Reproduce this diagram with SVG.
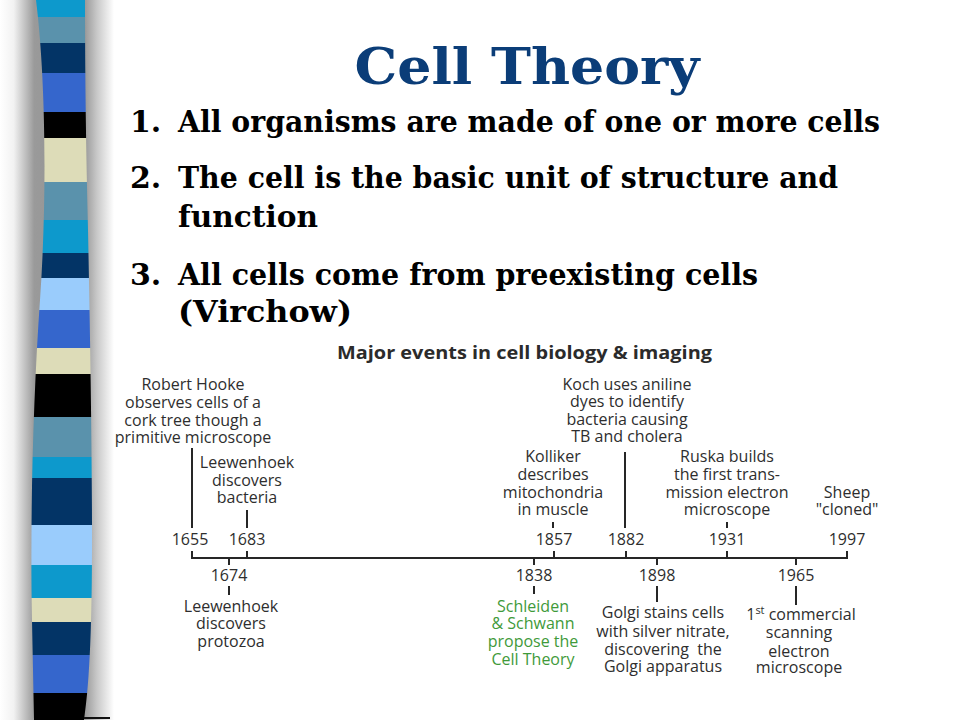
<svg xmlns="http://www.w3.org/2000/svg" width="960" height="720" viewBox="0 0 960 720">
<defs>
<style>
.title{font-family:"DejaVu Serif","Liberation Serif",serif;font-weight:bold;font-size:50px;fill:#0b3d78}
.li{font-family:"DejaVu Serif","Liberation Serif",serif;font-weight:bold;font-size:30px;fill:#000}
.hd{font-family:"Open Sans","Noto Sans",sans-serif;font-weight:bold;font-size:17px;fill:#2b2b2b}
.t{font-family:"Open Sans","Noto Sans",sans-serif;font-size:16px;fill:#2e2e2e;text-anchor:middle}
.g{fill:#3f9a3a}
.ln{stroke:#262626;stroke-width:2;fill:none}
</style>
<linearGradient id="shadow" x1="0" y1="0" x2="1" y2="0">
<stop offset="0" stop-color="#ffffff"/>
<stop offset="0.12" stop-color="#f2f2f2"/>
<stop offset="0.3" stop-color="#9a9a9a"/>
<stop offset="0.72" stop-color="#8e8e8e"/>
<stop offset="0.85" stop-color="#c8c8c8"/>
<stop offset="1" stop-color="#ffffff"/>
</linearGradient>
<clipPath id="barclip">
<path d="M36,0 C46,80 47,200 40,300 C33,400 30,520 32,620 L34,720 L84,720 C90,680 92,620 92,540 C92,440 90,330 88,230 C86,150 85,80 85,0 Z"/>
</clipPath>
</defs>
<rect width="960" height="720" fill="#ffffff"/>
<g id="stripe-bar">
<rect x="0" y="0" width="114" height="720" fill="url(#shadow)"/>
<g clip-path="url(#barclip)">
<rect x="20" y="0" width="80" height="17" fill="#0d99cc"/>
<rect x="20" y="17" width="80" height="26" fill="#5a92ac"/>
<rect x="20" y="43" width="80" height="30" fill="#033466"/>
<rect x="20" y="73" width="80" height="39" fill="#3566cc"/>
<rect x="20" y="112" width="80" height="26" fill="#000000"/>
<rect x="20" y="138" width="80" height="44" fill="#dddcb8"/>
<rect x="20" y="182" width="80" height="38" fill="#5a92ac"/>
<rect x="20" y="220" width="80" height="33" fill="#0d99cc"/>
<rect x="20" y="253" width="80" height="25" fill="#033466"/>
<rect x="20" y="278" width="80" height="32" fill="#9accfc"/>
<rect x="20" y="310" width="80" height="38" fill="#3566cc"/>
<rect x="20" y="348" width="80" height="26" fill="#dddcb8"/>
<rect x="20" y="374" width="80" height="43" fill="#000000"/>
<rect x="20" y="417" width="80" height="40" fill="#5a92ac"/>
<rect x="20" y="457" width="80" height="21" fill="#0d99cc"/>
<rect x="20" y="478" width="80" height="47" fill="#033466"/>
<rect x="20" y="525" width="80" height="40" fill="#9accfc"/>
<rect x="20" y="565" width="80" height="33" fill="#0d99cc"/>
<rect x="20" y="598" width="80" height="24" fill="#dddcb8"/>
<rect x="20" y="622" width="80" height="33" fill="#033466"/>
<rect x="20" y="655" width="80" height="38" fill="#3566cc"/>
<rect x="20" y="693" width="80" height="27" fill="#000000"/>
</g>
<line x1="84" y1="718" x2="110" y2="718" stroke="#111" stroke-width="2"/>
</g>
<g id="title">
<text class="title" x="527" y="84" text-anchor="middle" textLength="345" lengthAdjust="spacingAndGlyphs">Cell Theory</text>
</g>
<g id="list">
<text class="li" x="130" y="132">1.</text>
<text class="li" x="178" y="132" textLength="702" lengthAdjust="spacingAndGlyphs">All organisms are made of one or more cells</text>
<text class="li" x="130" y="188">2.</text>
<text class="li" x="178" y="188" textLength="660" lengthAdjust="spacingAndGlyphs">The cell is the basic unit of structure and</text>
<text class="li" x="178" y="227" textLength="140" lengthAdjust="spacingAndGlyphs">function</text>
<text class="li" x="130" y="285">3.</text>
<text class="li" x="178" y="285" textLength="580" lengthAdjust="spacingAndGlyphs">All cells come from preexisting cells</text>
<text class="li" x="178" y="322" textLength="174" lengthAdjust="spacingAndGlyphs">(Virchow)</text>
</g>
<g id="timeline-heading">
<text class="hd" x="337" y="359" textLength="375" lengthAdjust="spacingAndGlyphs">Major events in cell biology &amp; imaging</text>
</g>
<g id="connectors">
<path class="ln" d="M192,551 V558 H847 V551"/>
<line class="ln" x1="192" y1="448" x2="192" y2="528"/>
<line class="ln" x1="247" y1="510" x2="247" y2="528"/>
<line class="ln" x1="247" y1="551" x2="247" y2="558"/>
<line class="ln" x1="229" y1="558" x2="229" y2="565"/>
<line class="ln" x1="229" y1="586" x2="229" y2="595"/>
<line class="ln" x1="553" y1="522" x2="553" y2="528"/>
<line class="ln" x1="554" y1="551" x2="554" y2="558"/>
<line class="ln" x1="625" y1="452" x2="625" y2="528"/>
<line class="ln" x1="626" y1="551" x2="626" y2="558"/>
<line class="ln" x1="727" y1="522" x2="727" y2="528"/>
<line class="ln" x1="727" y1="551" x2="727" y2="558"/>
<line class="ln" x1="534" y1="558" x2="534" y2="565"/>
<line class="ln" x1="534" y1="586" x2="534" y2="594"/>
<line class="ln" x1="657" y1="558" x2="657" y2="565"/>
<line class="ln" x1="657" y1="586" x2="657" y2="602"/>
<line class="ln" x1="796" y1="558" x2="796" y2="565"/>
<line class="ln" x1="796" y1="586" x2="796" y2="605"/>
</g>
<g id="event-1655">
<text class="t" x="193" y="390">Robert Hooke</text>
<text class="t" x="193" y="408">observes cells of a</text>
<text class="t" x="193" y="426">cork tree though a</text>
<text class="t" x="193" y="443">primitive microscope</text>
<text class="t" x="190" y="545">1655</text>
</g>
<g id="event-1683">
<text class="t" x="247" y="468">Leewenhoek</text>
<text class="t" x="247" y="486">discovers</text>
<text class="t" x="247" y="503">bacteria</text>
<text class="t" x="247" y="545">1683</text>
</g>
<g id="event-1674">
<text class="t" x="229" y="581">1674</text>
<text class="t" x="231" y="612">Leewenhoek</text>
<text class="t" x="231" y="629">discovers</text>
<text class="t" x="231" y="647">protozoa</text>
</g>
<g id="event-1838">
<text class="t" x="534" y="581">1838</text>
<text class="t g" x="533" y="612">Schleiden</text>
<text class="t g" x="533" y="629">&amp; Schwann</text>
<text class="t g" x="533" y="647">propose the</text>
<text class="t g" x="533" y="665">Cell Theory</text>
</g>
<g id="event-1857">
<text class="t" x="553" y="462">Kolliker</text>
<text class="t" x="553" y="480">describes</text>
<text class="t" x="553" y="498">mitochondria</text>
<text class="t" x="553" y="515">in muscle</text>
<text class="t" x="554" y="545">1857</text>
</g>
<g id="event-1882">
<text class="t" x="627" y="390">Koch uses aniline</text>
<text class="t" x="627" y="407">dyes to identify</text>
<text class="t" x="627" y="425">bacteria causing</text>
<text class="t" x="627" y="442">TB and cholera</text>
<text class="t" x="626" y="545">1882</text>
</g>
<g id="event-1898">
<text class="t" x="657" y="581">1898</text>
<text class="t" x="663" y="618">Golgi stains cells</text>
<text class="t" x="663" y="637">with silver nitrate,</text>
<text class="t" x="663" y="655" xml:space="preserve">discovering  the</text>
<text class="t" x="663" y="672">Golgi apparatus</text>
</g>
<g id="event-1931">
<text class="t" x="727" y="462">Ruska builds</text>
<text class="t" x="727" y="480">the first trans-</text>
<text class="t" x="727" y="498">mission electron</text>
<text class="t" x="727" y="515">microscope</text>
<text class="t" x="727" y="545">1931</text>
</g>
<g id="event-1965">
<text class="t" x="796" y="581">1965</text>
<text class="t" x="801" y="620">1<tspan font-size="11" dy="-6">st</tspan><tspan dy="6"> commercial</tspan></text>
<text class="t" x="799" y="638">scanning</text>
<text class="t" x="799" y="657">electron</text>
<text class="t" x="799" y="673">microscope</text>
</g>
<g id="event-1997">
<text class="t" x="847" y="498">Sheep</text>
<text class="t" x="847" y="515">"cloned"</text>
<text class="t" x="847" y="545">1997</text>
</g>
</svg>
